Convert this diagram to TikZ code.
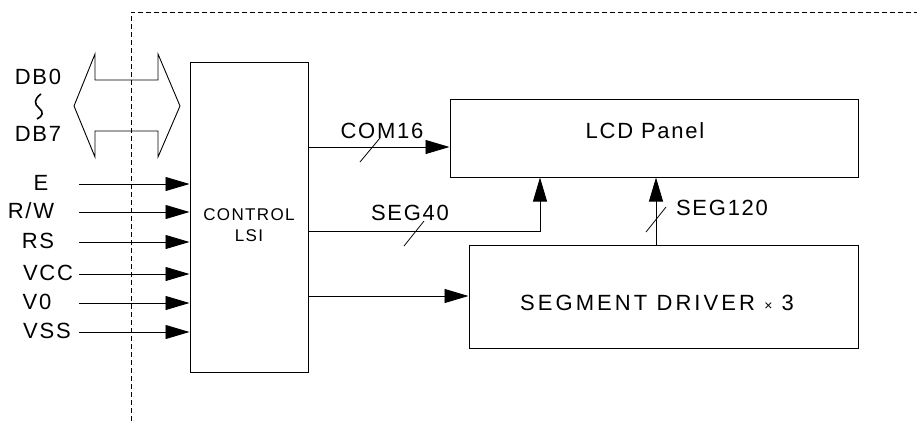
\documentclass[tikz,border=0pt]{standalone}
\usepackage{fontspec}
\setmainfont{Liberation Sans}[LetterSpace=8]
\usetikzlibrary{arrows.meta}
\begin{document}
\begin{tikzpicture}[x=1pt,y=-1pt,
  box/.style={draw=black,line width=1pt,inner sep=0pt},
  sig/.style={line width=0.9pt,-{Triangle[length=24pt,width=14pt]}},
  lbl/.style={inner sep=0pt,font=\fontsize{22}{24}\selectfont},
  slash/.style={line width=0.8pt},
  every node/.style={text=black}]
\useasboundingbox (0,0) rectangle (917,421);
% dashed boundary
\draw[dash pattern=on 5pt off 3pt,line width=0.8pt] (131,421) -- (131,12) -- (917,12);
% boxes
\node[box,minimum width=118pt,minimum height=310pt] (lsi) at (249,217) {};
\node[inner sep=0pt,align=center,font=\fontsize{17}{21}\selectfont] (lsitext) at (249,225) {CONTROL\\LSI};
\node[box,minimum width=408pt,minimum height=78pt] (lcd) at (654,138) {};
\node[lbl] (lcdtext) at (645,131) {LCD Panel};
\node[box,minimum width=389pt,minimum height=103pt] (seg) at (663.5,296.5) {};
\node[lbl] (segtext) at (657,303) {\addfontfeature{LetterSpace=14}SEGMENT DRIVER {\fontsize{14}{14}\selectfont ×} 3};
% bus arrow
\draw[line width=0.9pt] (95,54) -- (95,80) -- (158,80) -- (158,54) -- (180,106) -- (158,157) -- (158,131) -- (95,131) -- (95,157) -- (74,106) -- cycle;
\node[lbl] (db0) at (38,77) {DB0};
\node[lbl] (db7) at (38,134) {DB7};
\draw[line width=1.6pt] (41,94) .. controls (34,99) and (34,104) .. (39,108) .. controls (44,112) and (43,116) .. (37,119);
% inputs
\foreach \n/\t/\y/\cx in {e/{E}/184/41, rw/{R/W}/212/31, rs/{RS}/242/38, vcc/{VCC}/274/48, vz/{V0}/303/37, vss/{VSS}/332/47}{
  \node[lbl] (l\n) at (\cx,\y-1) {\t};
  \coordinate (s\n) at (79,\y);
  \draw[sig] (s\n) -- (s\n -| lsi.west);
}
% COM16
\coordinate (c1) at (307,147);
\draw[sig] (c1 -| lsi.east) -- (c1 -| lcd.west);
\draw[slash] (360,162) -- (380,138);
\node[lbl] (com16) at (382,131) {COM16};
% SEG40
\coordinate (s40) at (540,231);
\draw[sig] (s40 -| lsi.east) -- (s40) -- (s40 |- lcd.south);
\draw[slash] (404,246) -- (424,221);
\node[lbl] (seg40) at (410,213) {SEG40};
% driver input
\coordinate (d1) at (307,296);
\draw[sig] (d1 -| lsi.east) -- (d1 -| seg.west);
% SEG120
\coordinate (s120) at (656,245);
\draw[sig] (s120 |- seg.north) -- (s120 |- lcd.south);
\draw[slash] (646,232) -- (666,207);
\node[lbl] (seg120) at (722,208) {SEG120};
\end{tikzpicture}
\end{document}
